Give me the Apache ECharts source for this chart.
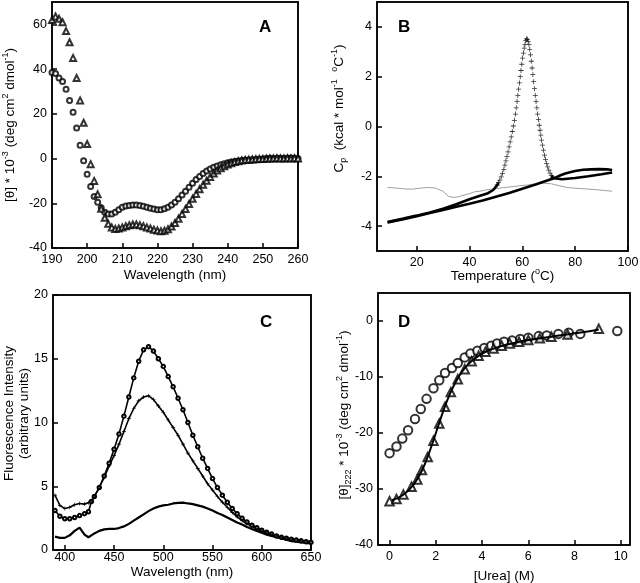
<!DOCTYPE html>
<html lang="en">
<head>
<meta charset="UTF-8">
<title>CD, DSC, fluorescence and urea denaturation</title>
<script src="https://cdn.jsdelivr.net/npm/echarts@6/dist/echarts.min.js"></script>
<style>
  html, body { margin: 0; padding: 0; background: #fff; }
  #main { width: 640px; height: 583px; }
</style>
</head>
<body>
<div id="main"></div>
<script>
// ---------- panel A : far-UV CD spectra ----------
var aWavelength = [190,191,192,193,194,195,196,197,198,199,200,201,202,203,204,205,206,207,208,209,
  210,211,212,213,214,215,216,217,218,219,220,221,222,223,224,225,226,227,228,229,
  230,231,232,233,234,235,236,237,238,239,240,241,242,243,244,245,246,247,248,249,
  250,251,252,253,254,255,256,257,258,259,260];
var aCircles = [38.5,38.0,36.0,34.5,31.0,26.0,20.7,13.7,6.0,-1.0,-7.0,-12.5,-17.0,-19.5,-22.0,-24.0,-24.8,-24.8,-24.0,-22.9,
  -21.8,-21.2,-21.0,-20.8,-20.8,-21.0,-21.3,-21.8,-22.2,-22.6,-22.9,-22.9,-22.5,-21.8,-20.8,-19.5,-18.0,-16.3,-14.6,-12.8,
  -11.0,-9.4,-8.0,-6.7,-5.6,-4.7,-3.9,-3.3,-2.8,-2.3,-1.9,-1.6,-1.3,-1.1,-0.9,-0.7,-0.6,-0.5,-0.4,-0.3,
  -0.2,0.0,0.1,0.0,0.1,0.1,0.0,0.1,0.2,0.1,0.0];
var aTriangles = [62.0,63.5,62.5,61.0,57.0,52.0,45.0,36.0,26.0,16.0,6.5,-2.5,-10.0,-16.0,-22.5,-26.5,-29.2,-30.8,-31.5,-31.3,
  -30.8,-30.3,-29.8,-29.5,-29.5,-29.8,-30.3,-30.8,-31.3,-31.8,-32.2,-32.5,-32.3,-31.6,-30.4,-28.8,-26.9,-24.8,-22.6,-20.3,
  -18.0,-15.8,-13.7,-11.7,-9.9,-8.2,-6.7,-5.4,-4.3,-3.4,-2.7,-2.1,-1.6,-1.2,-0.9,-0.7,-0.5,-0.4,-0.3,-0.2,
  -0.2,-0.1,0.0,0.0,0.1,0.0,0.0,0.1,0.0,0.1,0.0];

// ---------- panel B : DSC scans [T, Cp] ----------
var bScan1 = [[9,-3.84],[15,-3.7],[20,-3.58],[25,-3.45],[30,-3.3],[35,-3.12],[40,-2.92],[44,-2.78],[47,-2.68],[49,-2.55],
  [50.5,-2.35],[51,-2.25],[51.5,-2.15],[52,-2.02],[52.5,-1.88],[53,-1.72],[53.4,-1.55],[53.8,-1.38],[54.2,-1.2],[54.6,-1.02],
  [55,-0.82],[55.4,-0.62],[55.8,-0.42],[56.2,-0.2],[56.6,0.02],[57,0.25],[57.4,0.5],[57.7,0.75],[58,1.0],[58.3,1.25],
  [58.6,1.5],[58.9,1.75],[59.2,2.0],[59.5,2.25],[59.8,2.5],[60.1,2.75],[60.4,2.95],[60.7,3.15],[61,3.3],[61.3,3.45],
  [61.6,3.52],[61.9,3.5],[62.2,3.42],[62.5,3.3],[62.8,3.1],[63.1,2.88],[63.4,2.62],[63.7,2.35],[64,2.08],[64.3,1.8],
  [64.6,1.52],[64.9,1.25],[65.2,1.0],[65.5,0.75],[65.8,0.5],[66.1,0.28],[66.4,0.05],[66.7,-0.15],[67,-0.35],[67.3,-0.55],
  [67.6,-0.75],[68,-0.95],[68.4,-1.15],[68.8,-1.32],[69.2,-1.48],[69.6,-1.62],[70,-1.75],[70.5,-1.87],[71,-1.97],[71.5,-2.04],
  [72,-2.08],[75,-2.12],[80,-2.07],[85,-2.0],[90,-1.92],[94,-1.85]];
var bScan2 = [[9,-3.85],[15,-3.72],[20,-3.6],[25,-3.47],[30,-3.35],[35,-3.22],[40,-3.1],[45,-2.97],[50,-2.82],[55,-2.67],
  [60,-2.5],[65,-2.33],[70,-2.15],[72,-2.08],[74,-1.98],[76,-1.9],[78,-1.84],[80,-1.79],[83,-1.74],[86,-1.72],
  [89,-1.71],[92,-1.72],[94,-1.75]];
var bBuffer = [[9,-2.45],[12,-2.47],[15,-2.5],[18,-2.52],[21,-2.48],[24,-2.45],[27,-2.47],[30,-2.6],[32,-2.8],[34,-2.85],
  [36,-2.82],[38,-2.75],[40,-2.7],[42,-2.62],[44,-2.6],[46,-2.55],[48,-2.52],[50,-2.5],[53,-2.45],[56,-2.42],
  [59,-2.38],[62,-2.35],[65,-2.3],[68,-2.28],[71,-2.3],[74,-2.38],[77,-2.45],[80,-2.48],[83,-2.5],[86,-2.52],
  [89,-2.55],[92,-2.58],[94,-2.6]];

// ---------- panel C : fluorescence emission ----------
var cWavelength = [390,395,400,405,410,415,420,424,427,430,435,440,445,450,455,460,465,470,475,480,
  485,490,495,500,505,510,515,520,525,530,535,540,545,550,555,560,565,570,575,580,
  585,590,595,600,605,610,615,620,625,630,635,640,645,650];
var cCircles = [3.1,2.65,2.45,2.45,2.55,2.7,2.85,3.0,3.8,4.2,4.9,5.8,6.8,7.9,9.1,10.5,12.0,13.5,14.8,15.7,
  15.95,15.6,15.0,14.4,13.6,12.8,11.9,11.0,10.0,9.0,8.1,7.2,6.4,5.6,4.9,4.3,3.75,3.25,2.85,2.5,
  2.2,1.95,1.75,1.55,1.4,1.25,1.1,1.0,0.92,0.85,0.78,0.72,0.65,0.6];
var cCrosses = [4.3,3.5,3.25,3.35,3.55,3.65,3.6,3.7,3.85,4.2,4.9,5.7,6.6,7.4,8.3,9.3,10.3,11.1,11.7,12.0,
  12.1,11.8,11.3,10.8,10.2,9.6,9.0,8.3,7.6,7.0,6.4,5.8,5.2,4.7,4.2,3.75,3.35,2.95,2.6,2.3,
  2.05,1.85,1.65,1.5,1.35,1.2,1.1,1.0,0.92,0.85,0.8,0.75,0.7,0.65];
var cLow = [1.05,0.95,0.95,1.15,1.5,1.75,1.2,1.0,1.15,1.3,1.5,1.62,1.65,1.65,1.72,1.85,2.05,2.3,2.55,2.8,
  3.05,3.25,3.4,3.5,3.55,3.65,3.7,3.72,3.65,3.6,3.5,3.4,3.25,3.1,2.9,2.75,2.55,2.35,2.15,2.0,
  1.8,1.65,1.5,1.35,1.2,1.1,1.0,0.9,0.8,0.7,0.65,0.6,0.55,0.5];

// ---------- panel D : urea denaturation [urea, theta222] ----------
var dCircles = [[0,-23.6],[0.3,-22.4],[0.55,-21.0],[0.8,-19.5],[1.1,-17.5],[1.35,-15.7],[1.6,-13.9],[1.9,-12.0],
  [2.15,-10.6],[2.4,-9.3],[2.7,-8.4],[2.95,-7.5],[3.25,-6.5],[3.5,-5.8],[3.8,-5.3],[4.1,-4.8],[4.4,-4.4],
  [4.65,-4.0],[4.95,-3.7],[5.3,-3.5],[5.65,-3.2],[6.0,-3.0],[6.45,-2.7],[6.8,-2.6],[7.3,-2.3],[7.75,-2.1],
  [8.25,-2.3],[9.85,-1.8]];
var dTriangles = [[0,-32.2],[0.3,-31.8],[0.6,-31.0],[0.95,-29.6],[1.2,-28.3],[1.4,-26.6],[1.65,-24.3],[1.9,-21.4],
  [2.15,-18.3],[2.4,-15.3],[2.65,-12.7],[2.95,-10.4],[3.25,-8.6],[3.55,-7.2],[3.85,-6.2],[4.15,-5.5],[4.5,-4.9],
  [4.85,-4.4],[5.2,-4.0],[5.6,-3.7],[6.0,-3.4],[6.5,-3.1],[7.0,-2.8],[7.7,-2.4],[9.05,-1.4]];
var dFit = [[0.1,-32.0],[0.5,-31.3],[0.9,-29.9],[1.2,-28.2],[1.5,-25.8],[1.8,-22.5],[2.1,-18.8],[2.4,-15.2],
  [2.7,-12.2],[3.0,-9.9],[3.3,-8.2],[3.6,-7.0],[3.9,-6.1],[4.2,-5.4],[4.6,-4.8],[5.0,-4.3],[5.5,-3.8],
  [6.0,-3.4],[6.5,-3.1],[7.0,-2.8],[7.5,-2.5],[8.0,-2.2],[8.5,-1.9],[9.05,-1.5]];

// tick label values
var aXTicks = [190,200,210,220,230,240,250,260];
var aYTicks = [-40,-20,0,20,40,60];
var bXTicks = [20,40,60,80,100];
var bYTicks = [-4,-2,0,2,4];
var cXTicks = [400,450,500,550,600,650];
var cYTicks = [0,5,10,15,20];
var dXTicks = [0,2,4,6,8,10];
var dYTicks = [-40,-30,-20,-10,0];

var FONT = 'Liberation Sans, Arial, Helvetica, sans-serif';
var crossPath = 'path://M0,4.2H10V5.8H0Z M4.2,0H5.8V10H4.2Z';

function zip(xs, ys) {
  var out = [];
  for (var i = 0; i < xs.length; i++) out.push([xs[i], ys[i]]);
  return out;
}

var supRich = {
  sup: { fontSize: 9, lineHeight: 9, verticalAlign: 'top', fontFamily: FONT, color: '#000' },
  sub: { fontSize: 9, lineHeight: 9, verticalAlign: 'bottom', fontFamily: FONT, color: '#000' }
};

// one framed value axis, ticks inside
function axis(grid, min, max, ticks, name, gap, extra) {
  var a = {
    type: 'value', gridIndex: grid, min: min, max: max,
    name: name, nameLocation: 'middle', nameGap: gap, nameMoveOverlap: false,
    nameTextStyle: { fontSize: 13.5, fontFamily: FONT, color: '#000', lineHeight: 18, rich: supRich },
    axisLine: { show: true, onZero: false, lineStyle: { color: '#000', width: 1.5 } },
    axisTick: { show: true, inside: true, length: 5, customValues: ticks, lineStyle: { color: '#000', width: 1.5 } },
    axisLabel: { customValues: ticks, color: '#000', fontSize: 12.5, fontFamily: FONT, margin: 5 },
    splitLine: { show: false }
  };
  if (extra) {
    for (var k in extra) {
      if (k === 'nameTextStyle' || k === 'axisLabel') Object.assign(a[k], extra[k]);
      else a[k] = extra[k];
    }
  }
  return a;
}

// plain top / right edge of a frame
function edge(grid, min, max, pos) {
  return {
    type: 'value', gridIndex: grid, min: min, max: max, position: pos,
    axisLine: { show: true, onZero: false, lineStyle: { color: '#000', width: 1.5 } },
    axisTick: { show: false }, axisLabel: { show: false }, splitLine: { show: false }
  };
}

var frame = { show: true, borderColor: '#000', borderWidth: 1.5, containLabel: false, outerBoundsMode: 'none' };

var myChart = echarts.init(document.getElementById('main'), null, { renderer: 'canvas' });

var option = {
  backgroundColor: '#fff',
  animation: false,
  grid: [
    Object.assign({ left: 52, top: 2, width: 246, height: 246 }, frame),
    Object.assign({ left: 377, top: 2, width: 251, height: 249 }, frame),
    Object.assign({ left: 53, top: 295, width: 258, height: 255 }, frame),
    Object.assign({ left: 378, top: 293, width: 252, height: 252 }, frame)
  ],
  xAxis: [
    axis(0, 190, 260, aXTicks, 'Wavelength (nm)', 18),
    axis(1, 5, 100, bXTicks, 'Temperature ({sup|o}C)', 16),
    axis(2, 388, 650, cXTicks, 'Wavelength (nm)', 13, { axisLabel: { margin: 1 } }),
    axis(3, -0.5, 10.4, dXTicks, '[Urea] (M)', 22),
    edge(0, 190, 260, 'top'),
    edge(1, 5, 100, 'top'),
    edge(2, 388, 650, 'top'),
    edge(3, -0.5, 10.4, 'top')
  ],
  yAxis: [
    axis(0, -40, 70, aYTicks, '[\u03b8] * 10{sup|-3} (deg cm{sup|2} dmol{sup|-1})', 33),
    axis(1, -5, 5, bYTicks, 'C{sub|p}  (kcal * mol{sup|-1}  {sup|o}C{sup|-1})', 29,
      { nameTextStyle: { padding: [0, 0, 0, 36] } }),
    axis(2, 0, 20, cYTicks, 'Fluorescence Intensity\n(arbitrary units)', 21,
      { nameTextStyle: { lineHeight: 15, padding: [0, 0, 0, 18] } }),
    axis(3, -40, 5, dYTicks, '[\u03b8]{sub|222} * 10{sup|-3} (deg cm{sup|2} dmol{sup|-1})', 25,
      { nameTextStyle: { padding: [0, 0, 0, 8] } }),
    edge(0, -40, 70, 'right'),
    edge(1, -5, 5, 'right'),
    edge(2, 0, 20, 'right'),
    edge(3, -40, 5, 'right')
  ],
  graphic: [
    { type: 'text', left: 259, top: 19, style: { text: 'A', font: 'bold 17px ' + FONT, fill: '#000' } },
    { type: 'text', left: 398, top: 19, style: { text: 'B', font: 'bold 17px ' + FONT, fill: '#000' } },
    { type: 'text', left: 260, top: 314, style: { text: 'C', font: 'bold 17px ' + FONT, fill: '#000' } },
    { type: 'text', left: 398, top: 314, style: { text: 'D', font: 'bold 17px ' + FONT, fill: '#000' } }
  ],
  series: [
    // A
    { name: 'A circles', type: 'scatter', xAxisIndex: 0, yAxisIndex: 0, data: zip(aWavelength, aCircles),
      symbol: 'emptyCircle', symbolSize: 5, itemStyle: { color: '#000', borderWidth: 0.9 } },
    { name: 'A triangles', type: 'scatter', xAxisIndex: 0, yAxisIndex: 0, data: zip(aWavelength, aTriangles),
      symbol: 'emptyTriangle', symbolSize: 6, itemStyle: { color: '#000', borderWidth: 0.9 } },
    // B
    { name: 'B buffer', type: 'line', xAxisIndex: 1, yAxisIndex: 1, data: bBuffer, showSymbol: false,
      lineStyle: { color: '#a0a0a0', width: 1 } },
    { name: 'B rescan', type: 'line', xAxisIndex: 1, yAxisIndex: 1, data: bScan2, showSymbol: false,
      lineStyle: { color: '#000', width: 2.6 } },
    { name: 'B scan low', type: 'line', xAxisIndex: 1, yAxisIndex: 1, showSymbol: false,
      data: bScan1.filter(function (p) { return p[0] <= 51; }), lineStyle: { color: '#000', width: 2.6 } },
    { name: 'B scan high', type: 'line', xAxisIndex: 1, yAxisIndex: 1, showSymbol: false,
      data: bScan1.filter(function (p) { return p[0] >= 71; }), lineStyle: { color: '#000', width: 2.6 } },
    { name: 'B scan peak', type: 'scatter', xAxisIndex: 1, yAxisIndex: 1,
      data: bScan1.filter(function (p) { return p[0] > 50 && p[0] < 72; }),
      symbol: crossPath, symbolSize: 5, itemStyle: { color: '#000' } },
    // C
    { name: 'C circles', type: 'line', xAxisIndex: 2, yAxisIndex: 2, data: zip(cWavelength, cCircles),
      symbol: 'emptyCircle', symbolSize: 3.5, showAllSymbol: true,
      itemStyle: { color: '#000', borderWidth: 0.8 }, lineStyle: { color: '#000', width: 1.6 } },
    { name: 'C crosses', type: 'line', xAxisIndex: 2, yAxisIndex: 2, data: zip(cWavelength, cCrosses),
      symbol: crossPath, symbolSize: 4, showAllSymbol: true,
      itemStyle: { color: '#000' }, lineStyle: { color: '#000', width: 1.6 } },
    { name: 'C low', type: 'line', xAxisIndex: 2, yAxisIndex: 2, data: zip(cWavelength, cLow),
      showSymbol: false, lineStyle: { color: '#000', width: 2.2 } },
    // D
    { name: 'D circles', type: 'scatter', xAxisIndex: 3, yAxisIndex: 3, data: dCircles,
      symbol: 'emptyCircle', symbolSize: 8.5, itemStyle: { color: '#000', borderWidth: 1 } },
    { name: 'D triangles', type: 'scatter', xAxisIndex: 3, yAxisIndex: 3, data: dTriangles,
      symbol: 'emptyTriangle', symbolSize: 8.5, itemStyle: { color: '#000', borderWidth: 1 } },
    { name: 'D fit', type: 'line', xAxisIndex: 3, yAxisIndex: 3, data: dFit, smooth: true, showSymbol: false,
      lineStyle: { color: '#000', width: 2 }, z: 3 }
  ]
};

myChart.setOption(option);
</script>
</body>
</html>
